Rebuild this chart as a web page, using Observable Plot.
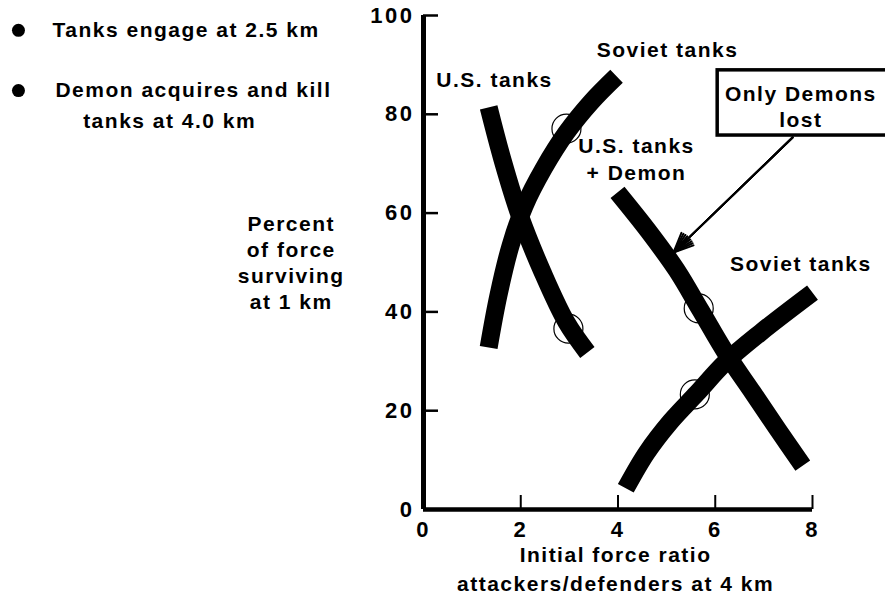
<!DOCTYPE html>
<html>
<head>
<meta charset="utf-8">
<script src="https://cdn.jsdelivr.net/npm/d3@7"></script>
<script src="https://cdn.jsdelivr.net/npm/@observablehq/plot@0.6"></script>
<style>
  html, body { margin: 0; padding: 0; background: white; }
  g[aria-label="y-axis tick label"] text, g[aria-label="x-axis tick label"] text { letter-spacing: 2.5px; }
</style>
</head>
<body>
<div id="chart"></div>
<script>
// ---- data ----
const xTicks = [0, 2, 4, 6, 8];
const yTicks = [0, 20, 40, 60, 80, 100];

// each series: [initial force ratio, percent surviving]
const usTanks = [[1.34, 81.4], [1.63, 70.6], [1.98, 59.5], [2.45, 48.0], [2.94, 37.9], [3.37, 31.8]];
const sovietTanksA = [[1.34, 32.8], [1.54, 43.3], [1.79, 53.4], [2.08, 61.5], [2.47, 69.0], [2.94, 76.3], [3.44, 82.4], [3.97, 87.7]];
const usTanksDemon = [[3.99, 64.2], [4.63, 56.3], [5.21, 48.4], [5.70, 40.3], [6.21, 31.8], [6.77, 23.7], [7.30, 16.0], [7.80, 8.9]];
const sovietTanksB = [[4.16, 4.3], [4.59, 11.5], [5.08, 17.8], [5.62, 23.5], [6.21, 29.8], [6.93, 35.8], [8.00, 43.9]];

// engagement markers (open circles)
const markers = [[2.98, 36.6], [2.94, 77.1], [5.66, 40.7], [5.58, 23.3]];

// curve labels
const curveLabels = [
  {text: "U.S. tanks", x: 1.46, y: 87.2},
  {text: "Soviet tanks", x: 5.02, y: 93.3},
  {text: "U.S. tanks\n+ Demon", x: 4.38, y: 71.2},
  {text: "Soviet tanks", x: 7.76, y: 50.0}
];
const boxLabel = {text: "Only Demons\nlost", x: 7.76, y: 81.7, x1: 6.05, x2: 9.62, y1: 75.7, y2: 88.9};
const arrowData = [{x1: 7.59, y1: 75.3, x2: 5.14, y2: 52.0}];

// legend (key) on the left
const legendItems = [
  {text: "Tanks engage at 2.5 km", x: -7.63, y: 97.0, bx: -8.33},
  {text: "Demon acquires and kill", x: -7.57, y: 84.8, bx: -8.33}
];
const legendCont = [{text: "tanks at 4.0 km", x: -7.0, y: 78.5}];
const yTitle = {text: "Percent\nof force\nsurviving\nat 1 km", x: -2.72, y: 50.2};
const xTitle = {text: "Initial force ratio\nattackers/defenders at 4 km", x: 3.95, y: -11.6};

// ---- build ----
const toRows = (arr, name) => arr.map(([x, y]) => ({x, y, series: name}));
const curves = [
  ...toRows(usTanks, "US"),
  ...toRows(sovietTanksA, "SovA"),
  ...toRows(usTanksDemon, "USD"),
  ...toRows(sovietTanksB, "SovB")
];
const markerRows = markers.map(([x, y]) => ({x, y}));

const W = 885, H = 599;
const mL = 423, mR = 73, mT = 15, mB = 90;
const frameW = W - mL - mR, frameH = H - mT - mB;

const chart = Plot.plot({
  width: W,
  height: H,
  marginLeft: mL,
  marginRight: mR,
  marginTop: mT,
  marginBottom: mB,
  style: "font-family: 'Liberation Sans', Arial, Helvetica, sans-serif; font-size: 21px; font-weight: bold; letter-spacing: 1.5px; color: black; background: white; overflow: visible;",
  x: {domain: [0, 8]},
  y: {domain: [0, 100]},
  marks: [
    // axes lines
    Plot.ruleX([0], {stroke: "black", strokeWidth: 5}),
    Plot.ruleY([0], {stroke: "black", strokeWidth: 4.5}),
    // inward ticks
    Plot.tickY(yTicks.filter(d => d > 0), {y: d => d, stroke: "black", strokeWidth: 2.5, insetRight: frameW - 15}),
    Plot.tickX(xTicks.filter(d => d > 0), {x: d => d, stroke: "black", strokeWidth: 2, insetTop: frameH - 14}),
    // tick labels
    Plot.axisY(yTicks, {tickSize: 0, tickPadding: 9, label: null, fontSize: 22}),
    Plot.axisX(xTicks, {tickSize: 0, tickPadding: 12, label: null, fontSize: 22}),
    // curves
    Plot.line(curves, {x: "x", y: "y", z: "series", curve: "catmull-rom", stroke: "black", strokeWidth: 18, strokeLinecap: "butt", strokeLinejoin: "round"}),
    // markers
    Plot.dot(markerRows, {x: "x", y: "y", r: 14.5, stroke: "black", strokeWidth: 1.2, fill: "none"}),
    // curve labels
    Plot.text(curveLabels, {x: "x", y: "y", text: "text", lineHeight: 1.3}),
    // box
    Plot.rect([boxLabel], {x1: "x1", x2: "x2", y1: "y1", y2: "y2", fill: "white", stroke: "black", strokeWidth: 3.5}),
    Plot.text([boxLabel], {x: "x", y: "y", text: "text", lineHeight: 1.2}),
    // arrow (several head angles to make a solid-looking head)
    ...[12, 24, 36, 48].map(a => Plot.arrow(arrowData, {x1: "x1", y1: "y1", x2: "x2", y2: "y2", stroke: "black", strokeWidth: 2, headLength: 16, headAngle: a})),
    // legend
    Plot.dot(legendItems, {x: "bx", y: "y", r: 6.5, fill: "black"}),
    Plot.text(legendItems, {x: "x", y: "y", text: "text", textAnchor: "start"}),
    Plot.text(legendCont, {x: "x", y: "y", text: "text", textAnchor: "start"}),
    // axis titles
    Plot.text([yTitle], {x: "x", y: "y", text: "text", lineHeight: 1.24}),
    Plot.text([xTitle], {x: "x", y: "y", text: "text", lineHeight: 1.38})
  ]
});
document.getElementById("chart").appendChild(chart);
</script>
</body>
</html>
